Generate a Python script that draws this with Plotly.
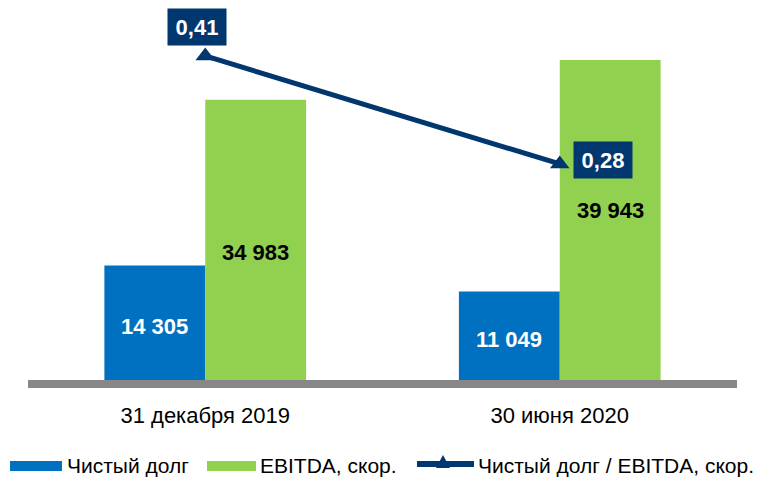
import plotly.graph_objects as go

categories = ["31 декабря 2019", "30 июня 2020"]
net_debt = [14305, 11049]
ebitda = [34983, 39943]
ratio = [0.41, 0.28]

net_debt_labels = ["14 305", "11 049"]
ebitda_labels = ["34 983", "39 943"]
ratio_labels = ["0,41", "0,28"]

series_names = ["Чистый долг", "EBITDA, скор.", "Чистый долг / EBITDA, скор."]

BLUE = "#0070C0"
GREEN = "#92D050"
NAVY = "#00376F"
GRAY = "#878787"
FONT = "Liberation Sans, Arial, sans-serif"

W, H = 767, 478
ML, MR, MT, MB = 28, 30, 20, 98
PW = W - ML - MR
PH = H - MT - MB

fig = go.Figure()
fig.add_trace(go.Bar(x=categories, y=net_debt, name=series_names[0],
                     marker=dict(color=BLUE, line=dict(width=0)), showlegend=False))
fig.add_trace(go.Bar(x=categories, y=ebitda, name=series_names[1],
                     marker=dict(color=GREEN, line=dict(width=0)), showlegend=False))
fig.add_trace(go.Scatter(x=categories, y=ratio, name=series_names[2], yaxis="y2",
                         mode="lines+markers",
                         line=dict(color=NAVY, width=5),
                         marker=dict(symbol="triangle-up", size=17, color=NAVY),
                         showlegend=False, cliponaxis=False))

annotations = []
# bar value labels
nd_shift = [-4, -4]
eb_shift = [-13, 10]
for i, c in enumerate(categories):
    annotations.append(dict(x=c, y=net_debt[i] / 2, xref="x", yref="y", text=f"<b>{net_debt_labels[i]}</b>",
                            showarrow=False, xshift=-50.5, yshift=nd_shift[i],
                            font=dict(family=FONT, size=22, color="white")))
    annotations.append(dict(x=c, y=ebitda[i] / 2, xref="x", yref="y", text=f"<b>{ebitda_labels[i]}</b>",
                            showarrow=False, xshift=50.5, yshift=eb_shift[i],
                            font=dict(family=FONT, size=22, color="black")))
# ratio labels
r_xshift = [-8, 43]
r_yshift = [29, 4]
for i, c in enumerate(categories):
    annotations.append(dict(x=c, y=ratio[i], xref="x", yref="y2", text=f"<b>{ratio_labels[i]}</b>",
                            showarrow=False, xshift=r_xshift[i], yshift=r_yshift[i],
                            bgcolor=NAVY, width=50, height=28, borderpad=4,
                            font=dict(family=FONT, size=22, color="white")))


def px_x(p):
    return (p - ML) / PW


def px_y(p):
    return (H - MB - p) / PH


shapes = [dict(type="rect", xref="paper", yref="paper", x0=0, x1=1, y0=px_y(388), y1=0,
               fillcolor=GRAY, line=dict(width=0), layer="above")]

# custom legend
leg_y = 465
shapes.append(dict(type="rect", xref="paper", yref="paper", x0=px_x(10), x1=px_x(62),
                   y0=px_y(471), y1=px_y(461), fillcolor=BLUE, line=dict(width=0)))
shapes.append(dict(type="rect", xref="paper", yref="paper", x0=px_x(207), x1=px_x(256),
                   y0=px_y(471), y1=px_y(461), fillcolor=GREEN, line=dict(width=0)))
shapes.append(dict(type="line", xref="paper", yref="paper", x0=px_x(417), x1=px_x(474),
                   y0=px_y(464), y1=px_y(464), line=dict(color=NAVY, width=6)))
shapes.append(dict(type="path", xref="paper", yref="paper",
                   path=f"M {px_x(436)} {px_y(468)} L {px_x(450)} {px_y(468)} L {px_x(443)} {px_y(455)} Z",
                   fillcolor=NAVY, line=dict(width=0)))
leg_text_x = [65, 258, 476]
for name, lx in zip(series_names, leg_text_x):
    annotations.append(dict(x=px_x(lx), y=px_y(leg_y), xref="paper", yref="paper", text=name,
                            showarrow=False, xanchor="left", yanchor="middle",
                            font=dict(family=FONT, size=21, color="black")))

fig.update_layout(
    width=W, height=H,
    margin=dict(l=ML, r=MR, t=MT, b=MB),
    paper_bgcolor="white", plot_bgcolor="white",
    barmode="group", bargap=0.431, bargroupgap=0,
    xaxis=dict(type="category", range=[-0.5, 1.5], showgrid=False, zeroline=False,
               showline=False, ticks="", ticklabelstandoff=20,
               tickfont=dict(family=FONT, size=22, color="black")),
    yaxis=dict(range=[0, 44936], showgrid=False, zeroline=False, showticklabels=False,
               showline=False),
    yaxis2=dict(range=[0.02, 0.4533], overlaying="y", side="right", showgrid=False,
                zeroline=False, showticklabels=False, showline=False),
    shapes=shapes,
    annotations=annotations,
    showlegend=False,
)

fig.write_html("out.html", config={"displayModeBar": False},
               post_script="document.body.style.margin='0';document.body.style.overflow='hidden';")
